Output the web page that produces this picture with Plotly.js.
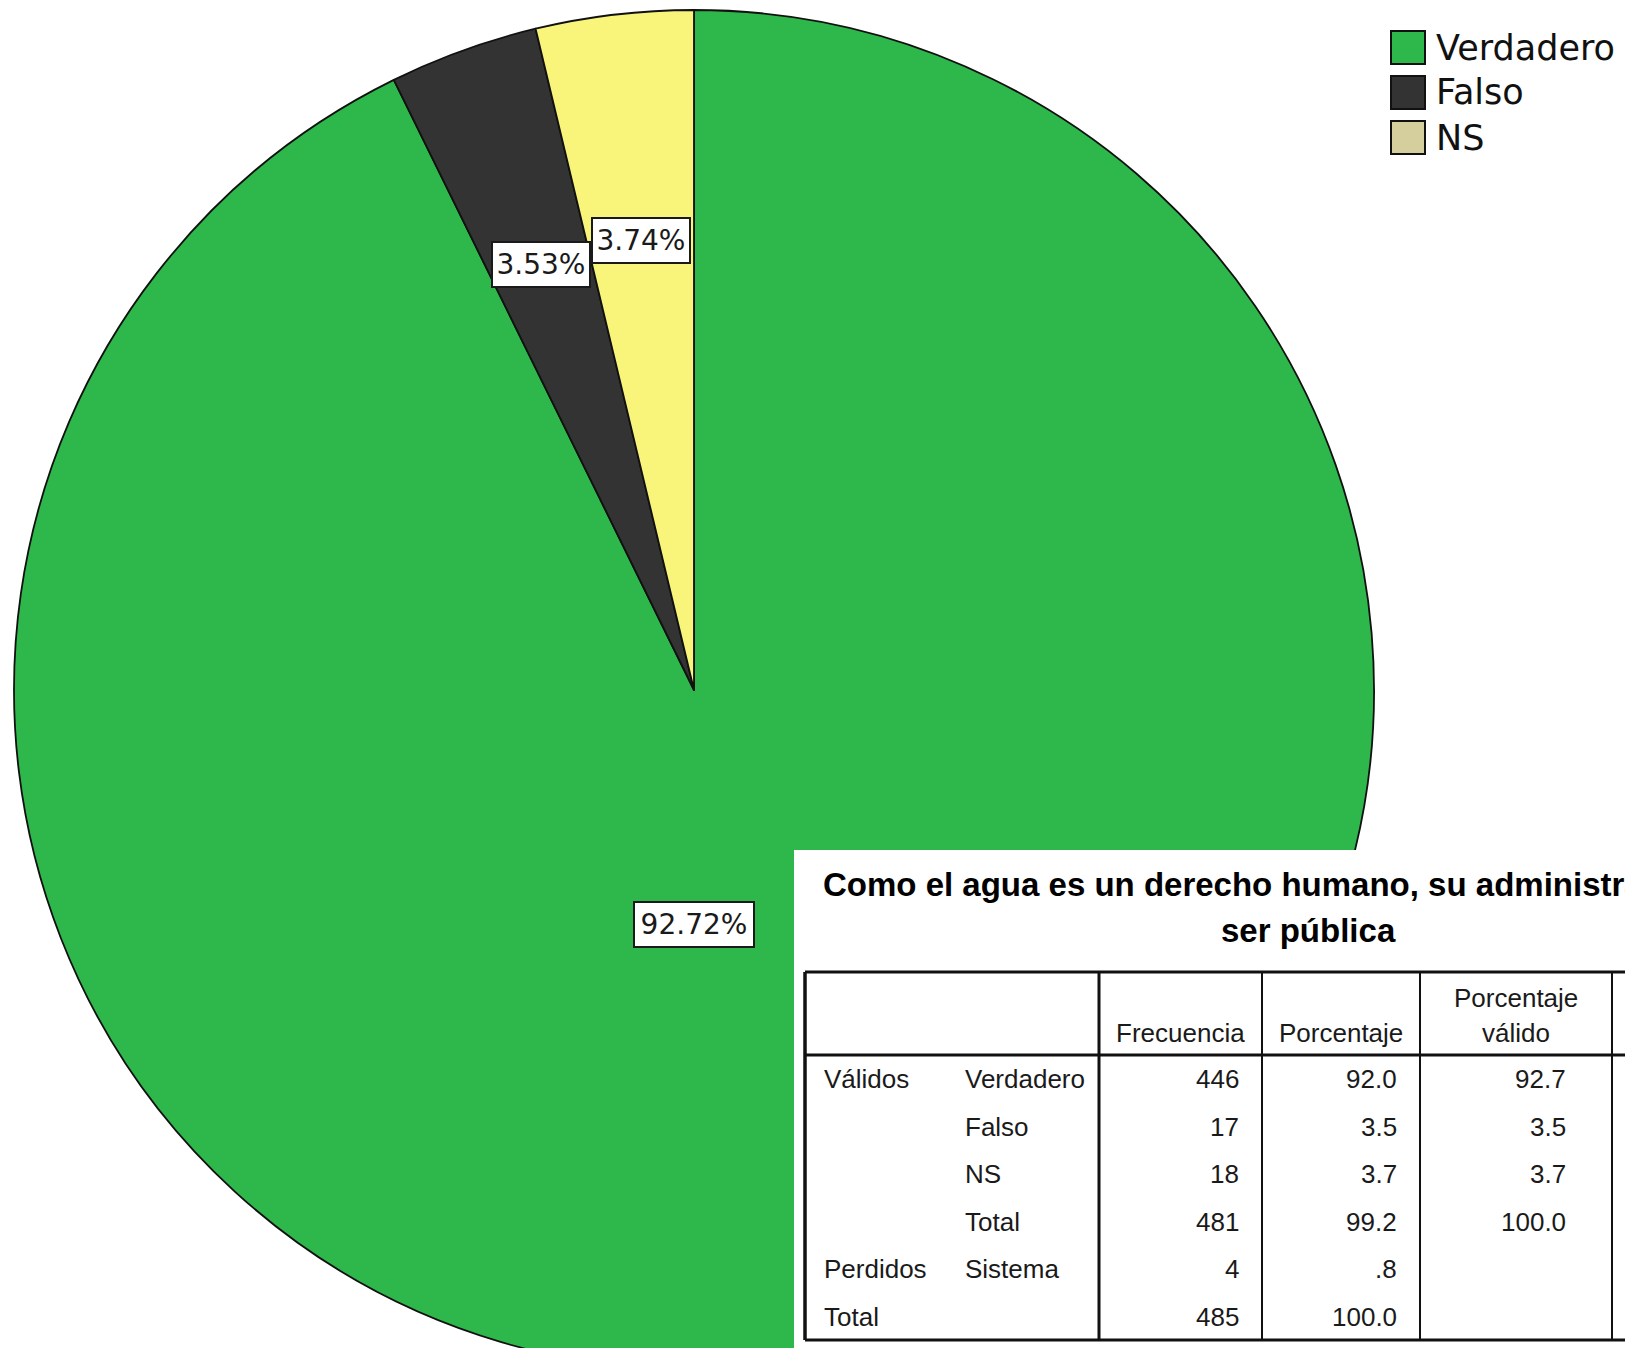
<!DOCTYPE html>
<html>
<head>
<meta charset="utf-8">
<script src="https://cdn.plot.ly/plotly-3.0.1.min.js"></script>
<style>
html,body{margin:0;padding:0;overflow:hidden;background:#fff;}
#chart{width:1625px;height:1380px;}
</style>
</head>
<body>
<div id="chart"></div>
<script>
// ---------- data ----------
const categories = ['Verdadero', 'Falso', 'NS'];
const counts = [446, 17, 18];
const sliceColors = ['#2eb84b', '#333333', '#f9f47a'];
const legendColors = ['#2eb84b', '#333333', '#d4cf9c'];

const tableTitle = ['Como el agua es un derecho humano, su administración debe', 'ser pública'];
const headFrecuencia = 'Frecuencia';
const headPorcentaje = 'Porcentaje';
const headValido = ['Porcentaje', 'válido'];
const groupLabels = ['Válidos', '', '', '', 'Perdidos', 'Total'];
const rowLabels = ['Verdadero', 'Falso', 'NS', 'Total', 'Sistema', ''];
const frecuencia = ['446', '17', '18', '481', '4', '485'];
const porcentaje = ['92.0', '3.5', '3.7', '99.2', '.8', '100.0'];
const porcentajeValido = ['92.7', '3.5', '3.7', '100.0', '', ''];

// ---------- layout geometry (pixels) ----------
const W = 1625, H = 1380;
const px = x => x / W;
const py = y => 1 - y / H;
const CX = 694, CY = 690, R = 680;

const total = counts.reduce((a, b) => a + b, 0);

const annotations = [];
const shapes = [];

// pie labels at slice centroids (clockwise from 12 o'clock)
let cum = 0;
counts.forEach((v, i) => {
  const frac = v / total;
  const alpha = frac * 2 * Math.PI;
  const mid = (cum + frac / 2) * 2 * Math.PI;
  cum += frac;
  const d = 4 * R * Math.sin(alpha / 2) / (3 * alpha);
  let lx, ly;
  if (d < 0.3 * R) { // dominant slice: label below the centre
    lx = CX; ly = CY + 0.345 * R;
  } else {
    lx = CX + d * Math.sin(mid); ly = CY - d * Math.cos(mid);
  }
  const text = (frac * 100).toFixed(2) + '%';
  annotations.push({
    x: px(lx), y: py(ly), xref: 'paper', yref: 'paper', showarrow: false,
    xanchor: 'center', yanchor: 'middle',
    text: text, width: text.length > 5 ? 112 : 90, height: 37,
    bgcolor: '#ffffff', bordercolor: '#1a1a1a', borderwidth: 2, borderpad: 3,
    font: {family: 'DejaVu Sans, Verdana, sans-serif', size: 28, color: '#1a1a1a'}
  });
});

// legend
categories.forEach((c, i) => {
  const yc = 47.5 + 45 * i;
  shapes.push({type: 'rect', xref: 'paper', yref: 'paper',
    x0: px(1391), x1: px(1425), y0: py(yc + 16.5), y1: py(yc - 16.5),
    fillcolor: legendColors[i], line: {color: '#111', width: 2}});
  annotations.push({x: px(1434), y: py(yc), xref: 'paper', yref: 'paper', showarrow: false,
    xanchor: 'left', yanchor: 'middle', text: c,
    font: {family: 'DejaVu Sans, Verdana, sans-serif', size: 35, color: '#111'}});
});

// table backdrop
shapes.push({type: 'rect', xref: 'paper', yref: 'paper', x0: px(794), x1: px(1700), y0: py(1400), y1: py(850),
  fillcolor: '#ffffff', line: {width: 0}});

const tfont = {family: 'Liberation Sans, Arial, sans-serif', size: 26, color: '#1a1a1a'};
const bfont = {family: 'Liberation Sans, Arial, sans-serif', size: 33, color: '#000', weight: 'bold'};

// table title
annotations.push({x: px(821), y: py(884), xref: 'paper', yref: 'paper', showarrow: false,
  xanchor: 'left', yanchor: 'middle', text: tableTitle[0], font: bfont});
annotations.push({x: px(1308), y: py(930), xref: 'paper', yref: 'paper', showarrow: false,
  xanchor: 'center', yanchor: 'middle', text: tableTitle[1], font: bfont});

// table lines
const T_TOP = 972, T_BOT = 1340, T_LEFT = 805, H_BOT = 1055;
const line = (x0, y0, x1, y1, w) => shapes.push({type: 'line', xref: 'paper', yref: 'paper',
  x0: px(x0), y0: py(y0), x1: px(x1), y1: py(y1), line: {color: '#111', width: w}});
line(T_LEFT, T_TOP, 1700, T_TOP, 3);
line(T_LEFT, T_BOT, 1700, T_BOT, 3);
line(T_LEFT, T_TOP, T_LEFT, T_BOT, 3.5);
line(T_LEFT, H_BOT, 1700, H_BOT, 3);
line(1099, T_TOP, 1099, T_BOT, 3);
line(1262, T_TOP, 1262, T_BOT, 2);
line(1420, T_TOP, 1420, T_BOT, 2);
line(1612, T_TOP, 1612, T_BOT, 2);

// header text
const txt = (x, y, s, anchor) => annotations.push({x: px(x), y: py(y), xref: 'paper', yref: 'paper',
  showarrow: false, xanchor: anchor, yanchor: 'middle', text: s, font: tfont});
txt(1180, 1033, headFrecuencia, 'center');
txt(1341, 1033, headPorcentaje, 'center');
txt(1516, 998, headValido[0], 'center');
txt(1516, 1033, headValido[1], 'center');

// body text
const ROW0 = 1079, ROWH = 47.6;
groupLabels.forEach((g, i) => {
  const y = ROW0 + ROWH * i;
  if (g) txt(822, y, g, 'left');
  if (rowLabels[i]) txt(963, y, rowLabels[i], 'left');
  if (frecuencia[i]) txt(1241, y, frecuencia[i], 'right');
  if (porcentaje[i]) txt(1399, y, porcentaje[i], 'right');
  if (porcentajeValido[i]) txt(1568, y, porcentajeValido[i], 'right');
});

const data = [{
  type: 'pie',
  labels: categories,
  values: counts,
  sort: false,
  direction: 'clockwise',
  rotation: 0,
  textinfo: 'none',
  hoverinfo: 'none',
  marker: {colors: sliceColors, line: {color: '#111', width: 1.8}},
  domain: {x: [px(CX - R), px(CX + R)], y: [py(CY + R), py(CY - R)]}
}];

const layout = {
  width: W, height: H,
  margin: {l: 0, r: 0, t: 0, b: 0, pad: 0},
  paper_bgcolor: '#ffffff',
  showlegend: false,
  shapes: shapes,
  annotations: annotations
};

Plotly.newPlot('chart', data, layout, {displayModeBar: false, staticPlot: true});
</script>
</body>
</html>
